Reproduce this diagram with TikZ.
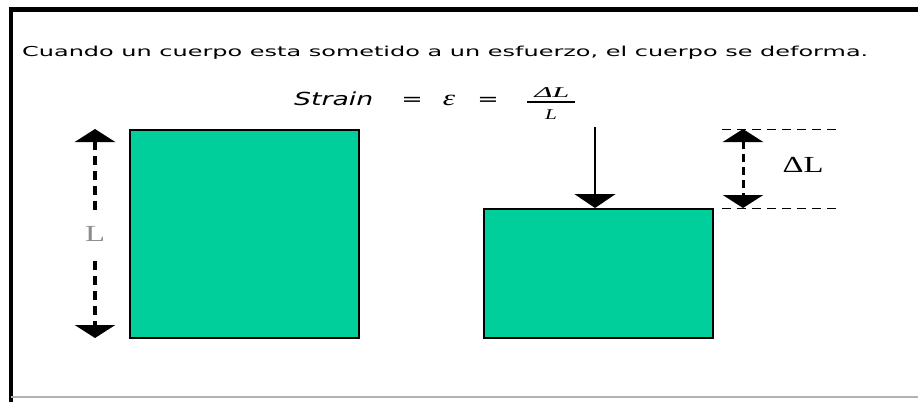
\documentclass[tikz,border=0pt]{standalone}
\usepackage{fontspec}
\setmainfont{Liberation Serif}
\newfontfamily\verd{DejaVu Sans}
\usetikzlibrary{arrows.meta}
\definecolor{blockgreen}{RGB}{0,206,155}
\tikzset{
  block/.style={draw=black, line width=1.5pt, fill=blockgreen},
  bigtip/.style={-{Triangle[width=41pt,length=14pt]}},
  dimline/.style={dash pattern=on 9pt off 6pt, line width=3.5pt, {Triangle[width=40pt,length=13pt]}-{Triangle[width=40pt,length=13pt]}},
  guide/.style={dash pattern=on 9pt off 6pt, line width=1pt},
  lbl/.style={inner sep=0pt, font=\fontsize{23}{23}\selectfont},
  fml/.style={inner sep=0pt, anchor=base}
}
\newcommand{\sx}[1]{\scalebox{1.42}[1]{#1}}
\begin{document}
\begin{tikzpicture}[x=1pt,y=-1pt]
\useasboundingbox (0,0) rectangle (918,402);
% frame
\draw[line width=4.5pt] (11,402) -- (11,9.5) -- (918,9.5);
\draw[line width=1.2pt, black!30] (11,397) -- (918,397);
% text
\node[anchor=base west, inner sep=0pt] (txt) at (22,56) {\resizebox{846pt}{\height}{\verd\fontsize{13.7}{14}\selectfont Cuando un cuerpo esta sometido a un esfuerzo, el cuerpo se deforma.}};
% formula
\node[anchor=base west, inner sep=0pt] (strain) at (294,105) {\resizebox{79pt}{\height}{\verd\itshape\fontsize{18}{18}\selectfont Strain}};
\node[fml] (eq1) at (412,105) {\sx{\verd\fontsize{18}{18}\selectfont =}};
\node[fml] (eps) at (449,105) {\sx{\fontsize{22}{22}\selectfont\textit{ε}}};
\node[fml] (eq2) at (488,105) {\sx{\verd\fontsize{18}{18}\selectfont =}};
\node[fml] (num) at (552,97) {\resizebox{35pt}{\height}{\fontsize{15}{15}\selectfont\textit{ΔL}}};
\node[fml] (den) at (551,119) {\sx{\fontsize{15}{15}\selectfont\textit{L}}};
\draw[line width=1.3pt] (527,102) -- (575,102);
% blocks
\node[block, minimum width=229pt, minimum height=208pt, inner sep=0pt, anchor=north west] (b1) at (129,129) {};
\node[block, minimum width=229pt, minimum height=129pt, inner sep=0pt, anchor=north west] (b2) at (483,208) {};
% left dimension
\coordinate (l1) at (95,129);
\coordinate (l2) at (95,338);
\draw[dimline] (l1) -- (l2);
\node[fill=white, lbl, text=black!45, minimum height=46pt, minimum width=30pt] (L) at (95,234) {\sx{L}};
% load arrow
\coordinate (top) at (595,127);
\draw[line width=2pt, bigtip] (top) -- (top |- b2.north);
% delta dimension
\coordinate (g1a) at (722,129);
\coordinate (g1b) at (840,129);
\coordinate (g2a) at (722,208);
\coordinate (g2b) at (840,208);
\draw[guide] (g1a) -- (g1b);
\draw[guide] (g2a) -- (g2b);
\coordinate (d1) at (743,129);
\coordinate (d2) at (743,208);
\draw[dimline, dash pattern=on 8pt off 5pt, line width=3pt] (d1) -- (d2);
\node[lbl] (dL) at (803,165) {\sx{ΔL}};
\end{tikzpicture}
\end{document}
